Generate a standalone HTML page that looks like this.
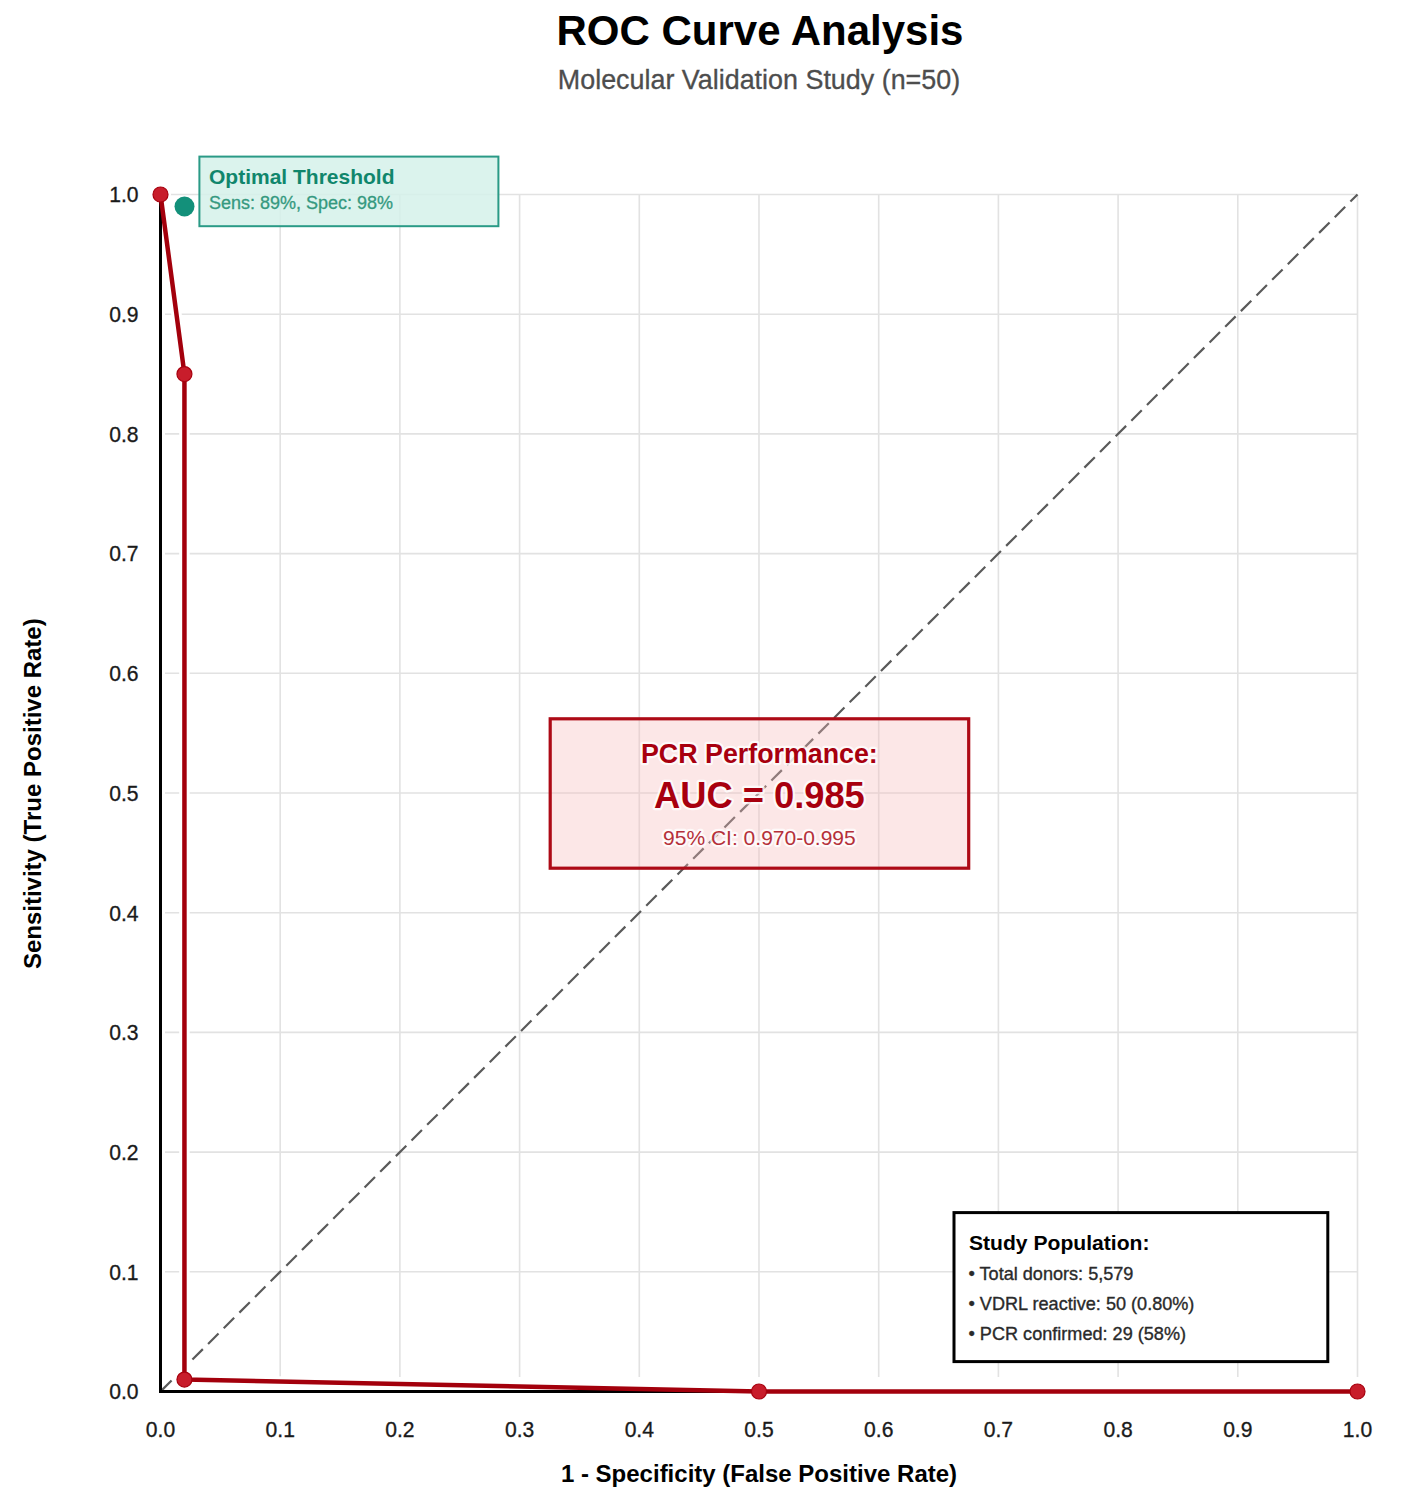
<!DOCTYPE html>
<html><head><meta charset="utf-8"><style>
html,body{margin:0;padding:0;background:#fff;width:1417px;height:1500px;overflow:hidden}
svg{display:block;font-family:"Liberation Sans",sans-serif}
</style></head><body>
<svg width="1417" height="1500" viewBox="0 0 1417 1500">
<rect width="1417" height="1500" fill="#fff"/>
<text x="760" y="45" text-anchor="middle" font-size="42" font-weight="bold" fill="#000">ROC Curve Analysis</text>
<text x="759" y="89" text-anchor="middle" font-size="26.9" fill="#4d4d4d" stroke="#4d4d4d" stroke-width="0.3">Molecular Validation Study (n=50)</text>
<g stroke="#e2e2e2" stroke-width="1.6">
<line x1="160.50" y1="194.5" x2="160.50" y2="1377" />
<line x1="165" y1="1391.50" x2="1357.5" y2="1391.50" />
<line x1="280.20" y1="194.5" x2="280.20" y2="1377" />
<line x1="165" y1="1271.80" x2="1357.5" y2="1271.80" />
<line x1="399.90" y1="194.5" x2="399.90" y2="1377" />
<line x1="165" y1="1152.10" x2="1357.5" y2="1152.10" />
<line x1="519.60" y1="194.5" x2="519.60" y2="1377" />
<line x1="165" y1="1032.40" x2="1357.5" y2="1032.40" />
<line x1="639.30" y1="194.5" x2="639.30" y2="1377" />
<line x1="165" y1="912.70" x2="1357.5" y2="912.70" />
<line x1="759.00" y1="194.5" x2="759.00" y2="1377" />
<line x1="165" y1="793.00" x2="1357.5" y2="793.00" />
<line x1="878.70" y1="194.5" x2="878.70" y2="1377" />
<line x1="165" y1="673.30" x2="1357.5" y2="673.30" />
<line x1="998.40" y1="194.5" x2="998.40" y2="1377" />
<line x1="165" y1="553.60" x2="1357.5" y2="553.60" />
<line x1="1118.10" y1="194.5" x2="1118.10" y2="1377" />
<line x1="165" y1="433.90" x2="1357.5" y2="433.90" />
<line x1="1237.80" y1="194.5" x2="1237.80" y2="1377" />
<line x1="165" y1="314.20" x2="1357.5" y2="314.20" />
<line x1="1357.50" y1="194.5" x2="1357.50" y2="1377" />
<line x1="165" y1="194.50" x2="1357.5" y2="194.50" />
</g>
<g font-size="20.5" fill="#1a1a1a" stroke="#1a1a1a" stroke-width="0.3" text-anchor="end">
<text transform="translate(138.5,1399.30) scale(1.03,1.1)">0.0</text>
<text transform="translate(138.5,1279.60) scale(1.03,1.1)">0.1</text>
<text transform="translate(138.5,1159.90) scale(1.03,1.1)">0.2</text>
<text transform="translate(138.5,1040.20) scale(1.03,1.1)">0.3</text>
<text transform="translate(138.5,920.50) scale(1.03,1.1)">0.4</text>
<text transform="translate(138.5,800.80) scale(1.03,1.1)">0.5</text>
<text transform="translate(138.5,681.10) scale(1.03,1.1)">0.6</text>
<text transform="translate(138.5,561.40) scale(1.03,1.1)">0.7</text>
<text transform="translate(138.5,441.70) scale(1.03,1.1)">0.8</text>
<text transform="translate(138.5,322.00) scale(1.03,1.1)">0.9</text>
<text transform="translate(138.5,202.30) scale(1.03,1.1)">1.0</text>
</g>
<g font-size="20.5" fill="#1a1a1a" stroke="#1a1a1a" stroke-width="0.3" text-anchor="middle">
<text transform="translate(160.50,1437.3) scale(1.03,1.12)">0.0</text>
<text transform="translate(280.20,1437.3) scale(1.03,1.12)">0.1</text>
<text transform="translate(399.90,1437.3) scale(1.03,1.12)">0.2</text>
<text transform="translate(519.60,1437.3) scale(1.03,1.12)">0.3</text>
<text transform="translate(639.30,1437.3) scale(1.03,1.12)">0.4</text>
<text transform="translate(759.00,1437.3) scale(1.03,1.12)">0.5</text>
<text transform="translate(878.70,1437.3) scale(1.03,1.12)">0.6</text>
<text transform="translate(998.40,1437.3) scale(1.03,1.12)">0.7</text>
<text transform="translate(1118.10,1437.3) scale(1.03,1.12)">0.8</text>
<text transform="translate(1237.80,1437.3) scale(1.03,1.12)">0.9</text>
<text transform="translate(1357.50,1437.3) scale(1.03,1.12)">1.0</text>
</g>
<text x="759" y="1482" text-anchor="middle" font-size="24" font-weight="bold" fill="#000">1 - Specificity (False Positive Rate)</text>
<text transform="translate(41,793.7) rotate(-90)" text-anchor="middle" font-size="24" font-weight="bold" fill="#000">Sensitivity (True Positive Rate)</text>
<!-- diagonal -->
<line x1="160.5" y1="1391.5" x2="1357.5" y2="194.5" stroke="#5a5a5a" stroke-width="2.2" stroke-dasharray="14.75 7.38" stroke-dashoffset="-0.9"/>
<!-- AUC box fill -->
<rect x="550.2" y="718.8" width="418.5" height="149.4" fill="rgb(245,185,185)" fill-opacity="0.35" stroke="#ad0a16" stroke-width="3.2"/>
<!-- halo -->
<polyline points="160.50,194.50 184.44,374.05 184.44,1379.53 759.00,1391.50 1357.50,1391.50" fill="none" stroke="#fff" stroke-width="10.5" stroke-linejoin="round"/>
<g fill="#fff">
<circle cx="160.50" cy="194.50" r="10.5"/>
<circle cx="184.44" cy="374.05" r="10.5"/>
<circle cx="184.44" cy="1379.53" r="10.5"/>
<circle cx="759.00" cy="1391.50" r="10.5"/>
<circle cx="1357.50" cy="1391.50" r="10.5"/>
</g>
<!-- axes -->
<path d="M160.5,194.5 L160.5,1391.5 L1357.5,1391.5" fill="none" stroke="#000" stroke-width="3"/>
<!-- curve -->
<polyline points="160.50,194.50 184.44,374.05 184.44,1379.53 759.00,1391.50 1357.50,1391.50" fill="none" stroke="#a3000c" stroke-width="4.5" stroke-linejoin="round"/>
<g fill="#c81d2b" stroke="#a8000e" stroke-width="1.2">
<circle cx="160.50" cy="194.50" r="7.5"/>
<circle cx="184.44" cy="374.05" r="7.5"/>
<circle cx="184.44" cy="1379.53" r="7.5"/>
<circle cx="759.00" cy="1391.50" r="7.5"/>
<circle cx="1357.50" cy="1391.50" r="7.5"/>
</g>
<!-- optimal -->
<circle cx="184.5" cy="206.5" r="10" fill="#13907a"/>
<rect x="199.4" y="156.6" width="299" height="69.6" fill="#d5f1ea" fill-opacity="0.85" stroke="#2a9a86" stroke-width="2"/>
<text x="209" y="184" font-size="21" font-weight="bold" fill="#10866c">Optimal Threshold</text>
<text x="209" y="209.3" font-size="18" fill="#35997f" stroke="#35997f" stroke-width="0.3">Sens: 89%, Spec: 98%</text>
<!-- AUC text -->
<g text-anchor="middle" fill="#a8000f" stroke="#fff" stroke-opacity="0.8" stroke-width="4.5" paint-order="stroke" stroke-linejoin="round">
<text x="759.4" y="763.2" font-size="26.8" font-weight="bold">PCR Performance:</text>
<text x="759.4" y="807.8" font-size="36.3" font-weight="bold">AUC = 0.985</text>
<text x="759.4" y="845.4" font-size="21" fill="#b5303a">95% CI: 0.970-0.995</text>
</g>
<!-- study box -->
<rect x="954" y="1212.6" width="373.8" height="149" fill="#fff" stroke="#000" stroke-width="3"/>
<text x="969" y="1250" font-size="21.1" font-weight="bold" fill="#000">Study Population:</text>
<g font-size="18.1" fill="#2a2a2a" stroke="#2a2a2a" stroke-width="0.35">
<text x="968.5" y="1279.6">• Total donors: 5,579</text>
<text x="968.5" y="1309.8">• VDRL reactive: 50 (0.80%)</text>
<text x="968.5" y="1339.6">• PCR confirmed: 29 (58%)</text>
</g>
</svg>
</body></html>
